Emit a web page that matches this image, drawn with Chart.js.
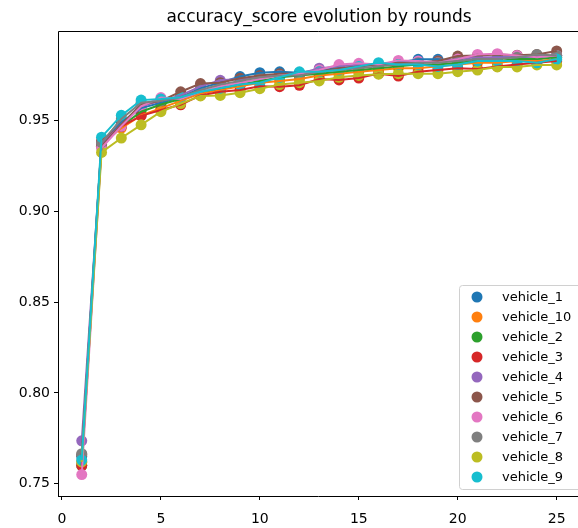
<!DOCTYPE html>
<html lang="en">
<head>
    <meta charset="UTF-8">
    <title>accuracy_score evolution by rounds</title>
    <style>
        body { margin: 0; background: #fff; }
        .wrap { width: 578px; height: 528px; position: relative; }
    </style>
</head>
<body>
    <div class="wrap"><canvas id="accChart"></canvas></div>

    <script src="https://cdn.jsdelivr.net/npm/chart.js@4.4.1/dist/chart.umd.min.js"></script>
    <script>
    // rounds 1..25
    const rounds = [1, 2, 3, 4, 5, 6, 7, 8, 9, 10, 11, 12, 13, 14, 15, 16, 17, 18, 19, 20, 21, 22, 23, 24, 25];

    const vehicleNames = ['vehicle_1', 'vehicle_10', 'vehicle_2', 'vehicle_3', 'vehicle_4',
                          'vehicle_5', 'vehicle_6', 'vehicle_7', 'vehicle_8', 'vehicle_9'];

    const vehicle1  = [0.765, 0.938, 0.949, 0.957, 0.960, 0.963, 0.968, 0.971, 0.9744, 0.9765, 0.977, 0.9765, 0.978, 0.979, 0.980, 0.981, 0.982, 0.9839, 0.9839, 0.983, 0.984, 0.985, 0.985, 0.985, 0.986];
    const vehicle10 = [0.762, 0.937, 0.946, 0.953, 0.957, 0.961, 0.965, 0.967, 0.969, 0.971, 0.972, 0.973, 0.975, 0.976, 0.977, 0.978, 0.979, 0.979, 0.980, 0.981, 0.982, 0.982, 0.983, 0.983, 0.984];
    const vehicle2  = [0.760, 0.936, 0.947, 0.955, 0.959, 0.962, 0.966, 0.968, 0.970, 0.972, 0.974, 0.975, 0.976, 0.977, 0.978, 0.979, 0.980, 0.981, 0.981, 0.982, 0.983, 0.983, 0.984, 0.984, 0.985];
    const vehicle3  = [0.760, 0.939, 0.947, 0.9527, 0.956, 0.9588, 0.964, 0.966, 0.967, 0.969, 0.9688, 0.9696, 0.973, 0.9725, 0.9736, 0.976, 0.9747, 0.977, 0.978, 0.979, 0.9785, 0.980, 0.981, 0.982, 0.983];
    const vehicle4  = [0.7736, 0.937, 0.948, 0.958, 0.961, 0.964, 0.969, 0.9723, 0.973, 0.974, 0.975, 0.976, 0.979, 0.980, 0.981, 0.981, 0.982, 0.982, 0.983, 0.984, 0.985, 0.985, 0.985, 0.986, 0.986];
    const vehicle5  = [0.766, 0.936, 0.948, 0.959, 0.961, 0.966, 0.9705, 0.971, 0.9735, 0.975, 0.976, 0.976, 0.977, 0.979, 0.980, 0.981, 0.982, 0.982, 0.983, 0.9857, 0.986, 0.9865, 0.9862, 0.9865, 0.9885];
    const vehicle6  = [0.755, 0.935, 0.947, 0.958, 0.9628, 0.962, 0.966, 0.969, 0.971, 0.973, 0.975, 0.976, 0.978, 0.981, 0.9817, 0.981, 0.9833, 0.983, 0.982, 0.984, 0.9866, 0.987, 0.986, 0.985, 0.986];
    const vehicle7  = [0.7665, 0.938, 0.951, 0.960, 0.961, 0.963, 0.967, 0.970, 0.972, 0.974, 0.975, 0.975, 0.977, 0.978, 0.979, 0.980, 0.981, 0.982, 0.982, 0.983, 0.984, 0.984, 0.985, 0.9866, 0.986];
    const vehicle8  = [0.762, 0.9326, 0.9405, 0.9478, 0.955, 0.9595, 0.9637, 0.964, 0.9655, 0.9677, 0.970, 0.971, 0.972, 0.974, 0.975, 0.9757, 0.976, 0.976, 0.976, 0.9771, 0.978, 0.9797, 0.9797, 0.9808, 0.9808];
    const vehicle9  = [0.763, 0.941, 0.953, 0.9614, 0.962, 0.963, 0.966, 0.968, 0.970, 0.971, 0.974, 0.977, 0.977, 0.978, 0.980, 0.982, 0.981, 0.981, 0.980, 0.981, 0.983, 0.983, 0.983, 0.982, 0.984];

    const seriesValues = [vehicle1, vehicle10, vehicle2, vehicle3, vehicle4, vehicle5, vehicle6, vehicle7, vehicle8, vehicle9];

    const xTicks = [0, 5, 10, 15, 20, 25];
    const yTicks = [0.75, 0.80, 0.85, 0.90, 0.95];

    // tab10
    const colors = ['#1f77b4', '#ff7f0e', '#2ca02c', '#d62728', '#9467bd',
                    '#8c564b', '#e377c2', '#7f7f7f', '#bcbd22', '#17becf'];

    const FONT = '"DejaVu Sans", sans-serif';

    // dots first, then the lines on top of all of them (later series above earlier ones)
    const datasets = [];
    seriesValues.forEach((vals, i) => {
        datasets.push({
            label: vehicleNames[i],
            data: rounds.map((r, k) => ({ x: r, y: vals[k] })),
            showLine: false,
            pointRadius: 5.5,
            pointBackgroundColor: colors[i],
            pointBorderWidth: 0,
            borderColor: colors[i],
            order: 100 - i,
            isDots: true
        });
    });
    seriesValues.forEach((vals, i) => {
        datasets.push({
            label: vehicleNames[i] + ' line',
            data: rounds.map((r, k) => ({ x: r, y: vals[k] })),
            showLine: true,
            pointRadius: 0,
            borderColor: colors[i],
            borderWidth: 2,
            tension: 0,
            order: 50 - i,
            isDots: false
        });
    });

    // title, frame and legend box drawn straight onto the canvas
    const decorations = {
        id: 'decorations',
        afterDraw(chart) {
            const ctx = chart.ctx;
            const a = chart.chartArea;
            ctx.save();

            ctx.strokeStyle = '#000';
            ctx.lineWidth = 1;
            ctx.beginPath();
            ctx.moveTo(a.left + 0.5, a.bottom + 0.5);
            ctx.lineTo(a.left + 0.5, a.top + 0.5);
            ctx.lineTo(a.right + 10, a.top + 0.5);
            ctx.moveTo(a.left, a.bottom + 0.5);
            ctx.lineTo(a.right + 10, a.bottom + 0.5);
            ctx.stroke();

            ctx.fillStyle = '#000';
            ctx.font = '17px ' + FONT;
            ctx.textAlign = 'center';
            ctx.textBaseline = 'alphabetic';
            ctx.fillText('accuracy_score evolution by rounds', 319, 22);

            // legend
            const lx = 459, ly = 285, lw = 130, lh = 204;
            ctx.fillStyle = 'rgba(255,255,255,0.8)';
            ctx.strokeStyle = '#d0d0d0';
            ctx.beginPath();
            ctx.roundRect(lx + 0.5, ly + 0.5, lw, lh, 3);
            ctx.fill();
            ctx.stroke();

            ctx.font = '13px ' + FONT;
            ctx.textAlign = 'left';
            ctx.textBaseline = 'middle';
            chart.data.datasets.filter(d => d.isDots).forEach((d, i) => {
                const cy = 297 + i * 20;
                ctx.fillStyle = d.pointBackgroundColor;
                ctx.beginPath();
                ctx.arc(477, cy, 5.5, 0, Math.PI * 2);
                ctx.fill();
                ctx.fillStyle = '#000';
                ctx.fillText(d.label, 502, cy + 1);
            });
            ctx.restore();
        }
    };

    new Chart(document.getElementById('accChart'), {
        type: 'scatter',
        data: { datasets },
        options: {
            responsive: true,
            maintainAspectRatio: false,
            animation: false,
            layout: { padding: { top: 31, left: 0, right: 0, bottom: 0 } },
            plugins: {
                legend: { display: false },
                title: { display: false },
                tooltip: { enabled: false }
            },
            scales: {
                x: {
                    type: 'linear',
                    min: -0.2,
                    max: 25.8,
                    afterBuildTicks: s => { s.ticks = xTicks.map(v => ({ value: v })); },
                    afterFit: s => { s.height = 32; },
                    grid: { drawOnChartArea: false, tickLength: 4, tickColor: '#000' },
                    border: { display: false },
                    ticks: { color: '#000', font: { family: FONT, size: 14 }, padding: 11, maxRotation: 0 }
                },
                y: {
                    type: 'linear',
                    min: 0.7432,
                    max: 0.9995,
                    afterBuildTicks: s => { s.ticks = yTicks.map(v => ({ value: v })); },
                    afterFit: s => { s.width = 58; },
                    grid: { drawOnChartArea: false, tickLength: 4, tickColor: '#000' },
                    border: { display: false },
                    ticks: {
                        color: '#000', font: { family: FONT, size: 14 }, padding: 4,
                        callback: v => v.toFixed(2)
                    }
                }
            }
        },
        plugins: [decorations]
    });
    </script>
</body>
</html>
